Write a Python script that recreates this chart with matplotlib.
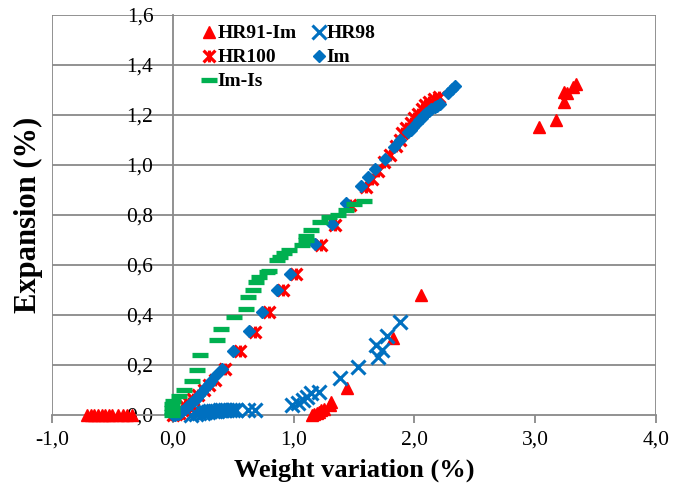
import matplotlib
matplotlib.use("Agg")
import matplotlib.pyplot as plt
from matplotlib.path import Path
from matplotlib.ticker import FuncFormatter

# ---------------- data ----------------
hr91_x = [-0.71, -0.68, -0.65, -0.62, -0.59, -0.56, -0.53, -0.50, -0.45, -0.41, -0.38, -0.34,
          1.15, 1.17, 1.19, 1.21, 1.23, 1.25, 1.30, 1.31, 1.44, 1.82, 2.055,
          3.03, 3.17, 3.24, 3.24, 3.26, 3.31, 3.34]
hr91_y = [0.0, 0.0, 0.0, 0.0, 0.0, 0.0, 0.0, 0.0, 0.0, 0.0, 0.0, 0.0,
          0.0, 0.003, 0.008, 0.013, 0.02, 0.025, 0.04, 0.053, 0.11, 0.31, 0.48,
          1.153, 1.18, 1.253, 1.293, 1.287, 1.313, 1.324]

hr98_x = [0.15, 0.19, 0.22, 0.25, 0.27, 0.29, 0.31, 0.33, 0.35, 0.37, 0.39, 0.41, 0.43,
          0.45, 0.47, 0.50, 0.52, 0.62, 0.68,
          0.985, 1.04, 1.08, 1.11, 1.14, 1.21, 1.385, 1.53, 1.70, 1.73, 1.685, 1.77, 1.88]
hr98_y = [0.0, 0.005, 0.008, 0.01, 0.012, 0.013, 0.015, 0.015, 0.017, 0.018, 0.02, 0.02, 0.02,
          0.02, 0.022, 0.022, 0.022, 0.022, 0.022,
          0.04, 0.047, 0.06, 0.073, 0.087, 0.093, 0.15, 0.193, 0.233, 0.26, 0.28, 0.316, 0.373]

hr100_x = [0.0, 0.03, 0.05, 0.076, 0.10, 0.13, 0.17, 0.21, 0.255, 0.30, 0.35, 0.43, 0.56,
           0.68, 0.80, 0.91, 1.02, 1.225, 1.34, 1.47, 1.60, 1.65, 1.70, 1.75, 1.80, 1.85,
           1.88, 1.90, 1.93, 1.97, 2.00, 2.03, 2.06, 2.09, 2.12, 2.16, 2.20]
hr100_y = [0.0, 0.005, 0.01, 0.02, 0.035, 0.05, 0.063, 0.08, 0.10, 0.12, 0.14, 0.183, 0.256,
           0.333, 0.413, 0.50, 0.564, 0.68, 0.76, 0.84, 0.91, 0.945, 0.975, 1.01, 1.04, 1.075,
           1.10, 1.127, 1.15, 1.17, 1.19, 1.205, 1.225, 1.24, 1.25, 1.262, 1.27]

im_x = [0.0, 0.02, 0.04, 0.06, 0.08, 0.10, 0.12, 0.14, 0.16, 0.18, 0.20, 0.22, 0.24, 0.27,
        0.30, 0.32, 0.36, 0.41, 0.50, 0.63, 0.74, 0.86, 0.97, 1.18, 1.32, 1.43, 1.56, 1.62,
        1.67, 1.76, 1.83, 1.88, 1.95, 1.97, 1.99, 2.02, 2.04, 2.06, 2.08, 2.10, 2.12, 2.14,
        2.17, 2.19, 2.21, 2.28, 2.31, 2.34]
im_y = [0.0, 0.0, 0.005, 0.01, 0.018, 0.025, 0.033, 0.043, 0.053, 0.062, 0.07, 0.082, 0.093,
        0.107, 0.125, 0.136, 0.16, 0.184, 0.256, 0.336, 0.413, 0.50, 0.564, 0.684, 0.764,
        0.847, 0.916, 0.953, 0.983, 1.024, 1.07, 1.10, 1.133, 1.14, 1.153, 1.17, 1.18, 1.19,
        1.20, 1.207, 1.215, 1.224, 1.232, 1.236, 1.245, 1.287, 1.303, 1.316]

imis_x = [-0.005, -0.005, -0.005, -0.005, 0.0, 0.048, 0.09, 0.16, 0.20, 0.227, 0.365, 0.40,
          0.51, 0.61, 0.62, 0.66, 0.69, 0.715, 0.78, 0.80, 0.86, 0.89, 0.92, 0.96, 1.07, 1.10,
          1.10, 1.145, 1.22, 1.29, 1.37, 1.43, 1.50, 1.58]
imis_y = [0.0, 0.013, 0.03, 0.045, 0.056, 0.075, 0.10, 0.135, 0.18, 0.24, 0.30, 0.345,
          0.393, 0.425, 0.473, 0.50, 0.532, 0.553, 0.572, 0.577, 0.62, 0.633, 0.647, 0.66,
          0.68, 0.70, 0.716, 0.74, 0.77, 0.79, 0.80, 0.82, 0.845, 0.857]

x_ticks = [-1.0, 0.0, 1.0, 2.0, 3.0, 4.0]
y_ticks = [0.0, 0.2, 0.4, 0.6, 0.8, 1.0, 1.2, 1.4, 1.6]

# ---------------- style ----------------
plt.rcParams['font.family'] = ['Liberation Serif', 'DejaVu Serif']
RED = '#FF0000'
BLUE = '#0070C0'
GREEN = '#00B050'
GRID = '#898989'

star = Path([(-1, -1), (1, 1), (-1, 1), (1, -1), (0, -1), (0, 1)],
            [Path.MOVETO, Path.LINETO, Path.MOVETO, Path.LINETO, Path.MOVETO, Path.LINETO])

fig = plt.figure(figsize=(6.73, 4.94), dpi=100)
ax = fig.add_axes([52 / 673, 1 - 415 / 494, (656 - 52) / 673, 400 / 494])

ax.plot(hr91_x, hr91_y, linestyle='none', marker='^', ms=8.5, color=RED, mec=RED,
        label='HR91-Im', clip_on=False, zorder=3)
ax.plot(hr98_x, hr98_y, linestyle='none', marker='x', ms=9.5, mew=2.2, color=BLUE,
        label='HR98', clip_on=False, zorder=4)
ax.plot(hr100_x, hr100_y, linestyle='none', marker=star, ms=8.5, mew=2.3, color=RED,
        label='HR100', clip_on=False, zorder=5)
ax.plot(im_x, im_y, linestyle='none', marker='D', ms=6.5, color=BLUE, mec=BLUE,
        label='Im', clip_on=False, zorder=6)
ax.plot(imis_x, imis_y, linestyle='none', marker='_', ms=11, mew=3.8, color=GREEN,
        label='Im-Is', clip_on=False, zorder=7)

ax.set_xlim(-1.0, 4.0)
ax.set_ylim(0.0, 1.6)
ax.set_xticks(x_ticks)
ax.set_yticks(y_ticks)
fmt = FuncFormatter(lambda v, p: f"{v:.1f}".replace('.', ','))
ax.xaxis.set_major_formatter(fmt)
ax.yaxis.set_major_formatter(fmt)

# frame / axes
for s in ['top', 'right', 'bottom', 'left']:
    ax.spines[s].set_color(GRID)
    ax.spines[s].set_linewidth(1.3)
ax.spines['left'].set_position(('data', 0))
ax.spines['top'].set_visible(False)
ax.spines['right'].set_visible(False)
ax.axvline(-1.0, color=GRID, lw=1.3, zorder=1)
ax.axvline(4.0, color=GRID, lw=1.3, zorder=1)
for yv in y_ticks[1:]:
    ax.axhline(yv, color=GRID, lw=1.3, zorder=1)

ax.tick_params(axis='y', length=0, pad=14, labelsize=15.5, colors='black')
ax.tick_params(axis='x', length=6, width=1.3, color=GRID, pad=5, labelsize=15.5,
               direction='out')

ax.set_xlabel('Weight variation (%)', fontsize=19, fontweight='bold', labelpad=7)
ax.set_ylabel('Expansion (%)', fontsize=22, fontweight='bold')
ax.yaxis.set_label_coords(-0.015, 0.5)

h, l = ax.get_legend_handles_labels()
order = [0, 2, 4, 1, 3]
leg = ax.legend([h[i] for i in order], [l[i] for i in order], ncol=2, frameon=False,
                loc='upper left', bbox_to_anchor=(0.235, 0.995),
                prop={'weight': 'bold', 'size': 14}, handlelength=0.8,
                handletextpad=0.0, columnspacing=0.75, labelspacing=0.33,
                borderaxespad=0)

fig.savefig('out.png', dpi=100)
